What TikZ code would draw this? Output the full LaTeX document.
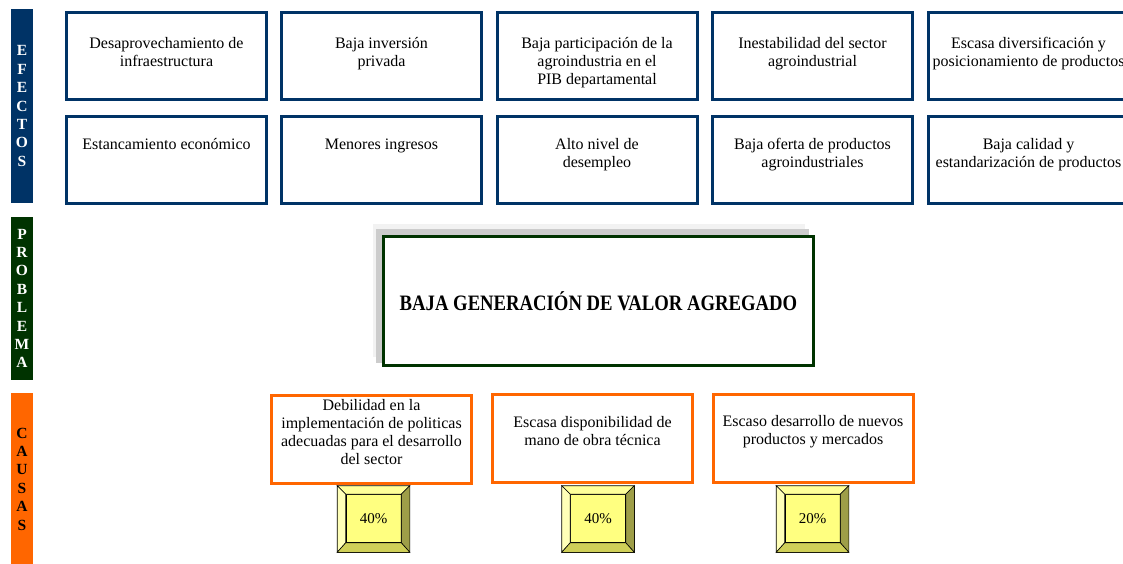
\documentclass[tikz,border=0pt]{standalone}
\usepackage{fontspec}
\setmainfont{Liberation Serif}
\usepackage{tikz}
\usetikzlibrary{positioning}

\definecolor{azulefecto}{HTML}{003366}
\definecolor{verdeproblema}{HTML}{003300}
\definecolor{naranjacausa}{HTML}{FF6600}
\definecolor{caraamarilla}{HTML}{FFFF80}
\definecolor{biselsup}{HTML}{FFFF99}
\definecolor{biselizq}{HTML}{FFFFB8}
\definecolor{biselder}{HTML}{9E9E48}
\definecolor{biselinf}{HTML}{CFCF58}

\begin{document}
\begin{tikzpicture}
		[
			x=1pt,y=-1pt,
			barra/.style={minimum width=22pt,align=center,inner sep=0pt,
					font=\fontsize{15.5}{18.4}\selectfont\bfseries},
			efecto/.style={draw=azulefecto,line width=3pt,minimum width=200pt,minimum height=87pt},
			causa/.style={draw=naranjacausa,line width=3pt,minimum width=200pt,minimum height=88pt},
			texto/.style={align=center,inner sep=0pt,font=\fontsize{16}{18}\selectfont},
			bisel/.style={draw=black,line width=0.6pt,minimum width=72pt,minimum height=66pt,inner sep=0pt},
			cara/.style={draw=black,line width=0.5pt,fill=caraamarilla,minimum width=55pt,minimum height=48pt,
					inner sep=0pt,font=\fontsize{15}{16}\selectfont}]
		\clip (0,0) rectangle (1123,563);
		% barras laterales
		\node[barra,fill=azulefecto,text=white,minimum height=194pt] (efectos) at (22,106) {E\\F\\E\\C\\T\\O\\S};
		\node[barra,fill=verdeproblema,text=white,minimum height=163pt] (problemas) at (22,298.5) {P\\R\\O\\B\\L\\E\\M\\A};
		\node[barra,fill=naranjacausa,text=black,minimum height=172pt] (causas) at (22,479) {C\\A\\U\\S\\A\\S};
		% efectos
		\foreach \x/\arriba/\abajo [count=\i] in {
				166.5/{Desaprovechamiento de\\infraestructura}/{Estancamiento económico},
				381.5/{Baja inversión\\privada}/{Menores ingresos},
				597/{Baja participación de la\\agroindustria en el\\PIB departamental}/{Alto nivel de\\desempleo},
				812.5/{Inestabilidad del sector\\agroindustrial}/{Baja oferta de productos\\agroindustriales},
				1028.5/{Escasa diversificación y\\posicionamiento de productos}/{Baja calidad y\\estandarización de productos}}
			{
				\node[efecto] (efa\i) at (\x,56) {};
				\node[texto,below=26pt of efa\i.north] (tefa\i) {\arriba};
				\node[efecto] (efb\i) at (\x,159.5) {};
				\node[texto,below=24pt of efb\i.north] (tefb\i) {\abajo};
			}
		% problema
		\fill[gray!10] (373,224) rectangle (805,357);
		\fill[gray!40] (376,229) rectangle (809,363);
		\node[draw=verdeproblema,line width=3pt,fill=white,minimum width=430pt,minimum height=129pt,
			font=\fontsize{22}{24}\selectfont\bfseries] (problema) at (598.5,301)
			{\scalebox{0.85}[1]{BAJA GENERACIÓN DE VALOR AGREGADO}};
		% causas
		\foreach \x/\y/\bx/\texto/\valor [count=\i] in {
				371.5/439.5/373.5/{Debilidad en la\\implementación de politicas\\adecuadas para el desarrollo\\del sector}/40\%,
				592.5/438.5/598/{Escasa disponibilidad de\\mano de obra técnica}/40\%,
				813/438.5/812.5/{Escaso desarrollo de nuevos\\productos y mercados}/20\%}
			{
				\node[causa] (cau\i) at (\x,\y) {};
				\node[texto] (tcau\i) at ([yshift=7pt]cau\i.center) {\texto};
				\node[bisel] (bis\i) at (\bx,519) {};
				\node[cara] (car\i) at ([yshift=0.5pt]bis\i.center) {\valor};
				\filldraw[draw=black,line width=0.6pt,fill=biselsup]
				(bis\i.north west) -- (bis\i.north east) -- (car\i.north east) -- (car\i.north west) -- cycle;
				\filldraw[draw=black,line width=0.6pt,fill=biselizq]
				(bis\i.north west) -- (car\i.north west) -- (car\i.south west) -- (bis\i.south west) -- cycle;
				\filldraw[draw=black,line width=0.6pt,fill=biselder]
				(bis\i.north east) -- (car\i.north east) -- (car\i.south east) -- (bis\i.south east) -- cycle;
				\filldraw[draw=black,line width=0.6pt,fill=biselinf]
				(bis\i.south west) -- (car\i.south west) -- (car\i.south east) -- (bis\i.south east) -- cycle;
			}
	\end{tikzpicture}
\end{document}
